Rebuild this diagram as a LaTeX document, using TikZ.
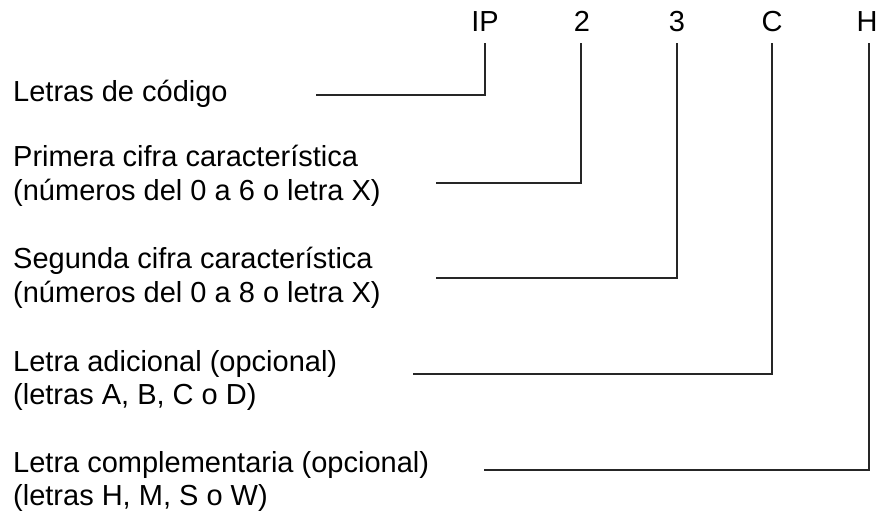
\documentclass[tikz,border=0pt]{standalone}
\usepackage{fontspec}
\setmainfont{Liberation Sans}
\begin{document}
\begin{tikzpicture}[x=1pt,y=-1pt,
  txt/.style={anchor=base west,inner sep=0pt,font=\fontsize{29}{33}\selectfont},
  lab/.style={anchor=base,inner sep=0pt,font=\fontsize{29}{33}\selectfont},
  conn/.style={draw=black!85,line width=1.6pt}]
\useasboundingbox (0,0) rectangle (881,513);
% top labels
\node[lab] (ip) at (485,32) {IP};
\node[lab] (d2) at (582,32) {2};
\node[lab] (d3) at (677,32) {3};
\node[lab] (lc) at (772,32) {C};
\node[lab] (lh) at (867,32) {H};
% left texts
\node[txt] (t0) at (13,102) {Letras de código};
\node[txt] (t1a) at (13,167) {Primera cifra característica};
\node[txt] (t1b) at (13,201) {(números del 0 a 6 o letra X)};
\node[txt] (t2a) at (13,269) {Segunda cifra característica};
\node[txt] (t2b) at (13,302) {(números del 0 a 8 o letra X)};
\node[txt] (t3a) at (13,371) {Letra adicional (opcional)};
\node[txt] (t3b) at (13,404) {(letras A, B, C o D)};
\node[txt] (t4a) at (13,472) {Letra complementaria (opcional)};
\node[txt] (t4b) at (13,505) {(letras H, M, S o W)};
% line starts and corners
\coordinate (s0) at (316,95);
\coordinate (s1) at (436,183);
\coordinate (s2) at (436,278);
\coordinate (s3) at (413,374);
\coordinate (s4) at (484,470);
\coordinate (v0) at (485,43);
\coordinate (v1) at (581,43);
\coordinate (v2) at (677,43);
\coordinate (v3) at (772,43);
\coordinate (v4) at (869,43);
% connectors
\draw[conn] (s0) -| (v0);
\draw[conn] (s1) -| (v1);
\draw[conn] (s2) -| (v2);
\draw[conn] (s3) -| (v3);
\draw[conn] (s4) -| (v4);
\end{tikzpicture}
\end{document}
